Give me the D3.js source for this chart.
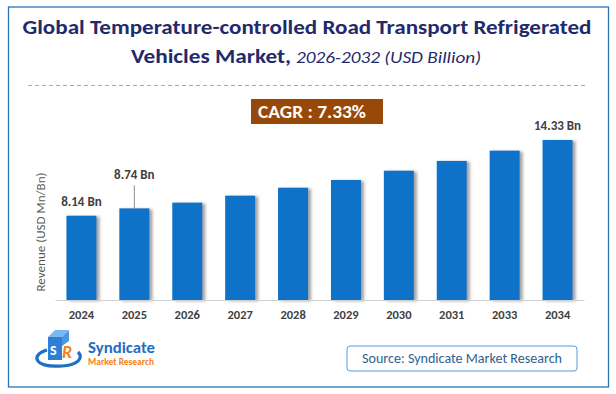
<!DOCTYPE html>
<html>
<head>
<meta charset="utf-8">
<script src="https://cdn.jsdelivr.net/npm/d3@7/dist/d3.min.js"></script>
<style>
  body { margin: 0; background: #fff; }
  svg { display: block; font-family: Carlito, "Open Sans", "Noto Sans", sans-serif; }
</style>
</head>
<body>
<div id="chart"></div>
<script>
// chart data
const years = ['2024', '2025', '2026', '2027', '2028', '2029', '2030', '2031', '2033', '2034'];
const revenue = [8.14, 8.74, 9.21, 9.78, 10.43, 11.06, 11.82, 12.62, 13.46, 14.33];
const valueLabels = { '2024': '8.14 Bn', '2025': '8.74 Bn', '2034': '14.33 Bn' };
const cagrText = 'CAGR : 7.33%';

const width = 616, height = 394;
const svg = d3.select('#chart').append('svg').attr('width', width).attr('height', height);

const defs = svg.append('defs');
defs.append('filter').attr('id', 'shadow')
  .attr('x', '-20%').attr('y', '-10%').attr('width', '150%').attr('height', '130%')
  .append('feDropShadow')
  .attr('dx', 3).attr('dy', 1).attr('stdDeviation', 1.4)
  .attr('flood-color', '#555').attr('flood-opacity', 0.55);

// outer frame
svg.append('rect')
  .attr('x', 8.5).attr('y', 7).attr('width', 600).attr('height', 380)
  .attr('fill', 'none').attr('stroke', '#2e74b5').attr('stroke-width', 1.3);

// title
const navy = '#1f2b6b';
svg.append('text')
  .attr('x', 307).attr('y', 34).attr('text-anchor', 'middle')
  .attr('fill', navy).attr('font-size', 21).attr('font-weight', 'bold')
  .attr('textLength', 569).attr('lengthAdjust', 'spacingAndGlyphs')
  .text('Global Temperature-controlled Road Transport Refrigerated');

const t2 = svg.append('text').attr('y', 63).attr('fill', navy);
t2.append('tspan').attr('x', 131).attr('font-size', 21).attr('font-weight', 'bold')
  .attr('textLength', 160).attr('lengthAdjust', 'spacingAndGlyphs')
  .text('Vehicles Market,');
t2.append('tspan').attr('x', 296).attr('font-size', 16.5).attr('font-style', 'italic')
  .attr('textLength', 185).attr('lengthAdjust', 'spacingAndGlyphs')
  .text('2026-2032 (USD Billion)');

svg.append('line')
  .attr('x1', 28).attr('x2', 585).attr('y1', 85.5).attr('y2', 85.5)
  .attr('stroke', '#8eaee0').attr('stroke-width', 1).attr('stroke-dasharray', '4,3');

// CAGR badge
svg.append('rect').attr('x', 251).attr('y', 99).attr('width', 132).attr('height', 25)
  .attr('fill', '#984807');
svg.append('text').attr('x', 312).attr('y', 118).attr('text-anchor', 'middle')
  .attr('fill', '#fff').attr('font-size', 17).attr('font-weight', 'bold')
  .attr('textLength', 108).attr('lengthAdjust', 'spacingAndGlyphs')
  .text(cagrText);

// scales
const x = d3.scaleBand().domain(years).range([55, 584]).paddingInner(0.433).paddingOuter(0.2165);
const y = d3.scaleLinear().domain([1.25, 15]).range([300, 131.8]);

// bars
svg.append('g').selectAll('rect').data(years).enter().append('rect')
  .attr('x', d => x(d))
  .attr('y', (d, i) => y(revenue[i]))
  .attr('width', x.bandwidth())
  .attr('height', (d, i) => y.range()[0] - y(revenue[i]))
  .attr('fill', '#0a72c8')
  .attr('filter', 'url(#shadow)');

// axis
const xAxis = svg.append('g').attr('transform', 'translate(0,300)')
  .call(d3.axisBottom(x).tickSize(0).tickPadding(10));
xAxis.select('.domain').attr('stroke', '#d0d0d0').attr('stroke-width', 1.2);
xAxis.selectAll('text').attr('fill', '#404040').attr('font-size', 12.5).attr('font-weight', 'bold')
  .attr('font-family', 'Carlito, "Open Sans", sans-serif');

// value labels
const labelled = years.filter(d => valueLabels[d]);
svg.append('g').selectAll('text').data(labelled).enter().append('text')
  .attr('x', d => x(d) + x.bandwidth() / 2)
  .attr('y', d => {
    const v = revenue[years.indexOf(d)];
    return d === '2025' ? y(v) - 29 : y(v) - 10;
  })
  .attr('text-anchor', 'middle')
  .attr('fill', '#404040').attr('font-size', 13).attr('font-weight', 'bold')
  .text(d => valueLabels[d]);

// leader line for 2025
svg.append('line')
  .attr('x1', x('2025') + x.bandwidth() / 2).attr('x2', x('2025') + x.bandwidth() / 2)
  .attr('y1', y(revenue[1]) - 23).attr('y2', y(revenue[1]))
  .attr('stroke', '#8c8c8c').attr('stroke-width', 1);

// y axis title
svg.append('text')
  .attr('transform', 'translate(45,232) rotate(-90)')
  .attr('text-anchor', 'middle').attr('fill', '#595959').attr('font-size', 13)
  .attr('textLength', 119).attr('lengthAdjust', 'spacingAndGlyphs')
  .text('Revenue (USD Mn/Bn)');

// logo
const logo = svg.append('g');
logo.append('path')
  .attr('d', 'M 47 350 C 30 355, 34 368, 62 366 C 78 365, 84 358, 78 352')
  .attr('fill', 'none').attr('stroke', '#1f6fc5').attr('stroke-width', 3.2);
logo.append('rect').attr('x', 48).attr('y', 337).attr('width', 14).attr('height', 23)
  .attr('fill', '#2f7fd6');
logo.append('path').attr('d', 'M 48 337 L 55 330 L 69 330 L 62 337 Z').attr('fill', '#7ab8f2');
logo.append('path').attr('d', 'M 62 337 L 69 330 L 69 341 L 62 346 Z').attr('fill', '#4a96e0');
logo.append('text').attr('x', 50).attr('y', 355).attr('fill', '#fff')
  .attr('font-size', 14).attr('font-weight', 'bold').text('S');
logo.append('text').attr('x', 62).attr('y', 358).attr('fill', '#f58220')
  .attr('font-size', 18).attr('font-weight', 'bold').attr('font-style', 'italic').text('R');
logo.append('text').attr('x', 88).attr('y', 353).attr('fill', '#1f6fc5')
  .attr('font-size', 15).attr('font-weight', 'bold')
  .attr('textLength', 67).attr('lengthAdjust', 'spacingAndGlyphs').text('Syndicate');
logo.append('text').attr('x', 88).attr('y', 364.5).attr('fill', '#f58220')
  .attr('font-size', 9.5).attr('font-weight', 'bold')
  .attr('textLength', 66).attr('lengthAdjust', 'spacingAndGlyphs').text('Market Research');

// source box
svg.append('rect').attr('x', 347).attr('y', 346).attr('width', 230).attr('height', 25).attr('rx', 3)
  .attr('fill', '#fff').attr('stroke', '#5b9bd5').attr('stroke-width', 1);
svg.append('text').attr('x', 462).attr('y', 362.5).attr('text-anchor', 'middle')
  .attr('fill', '#2f5f8f').attr('font-size', 14)
  .attr('textLength', 200).attr('lengthAdjust', 'spacingAndGlyphs')
  .text('Source: Syndicate Market Research');
</script>
</body>
</html>
